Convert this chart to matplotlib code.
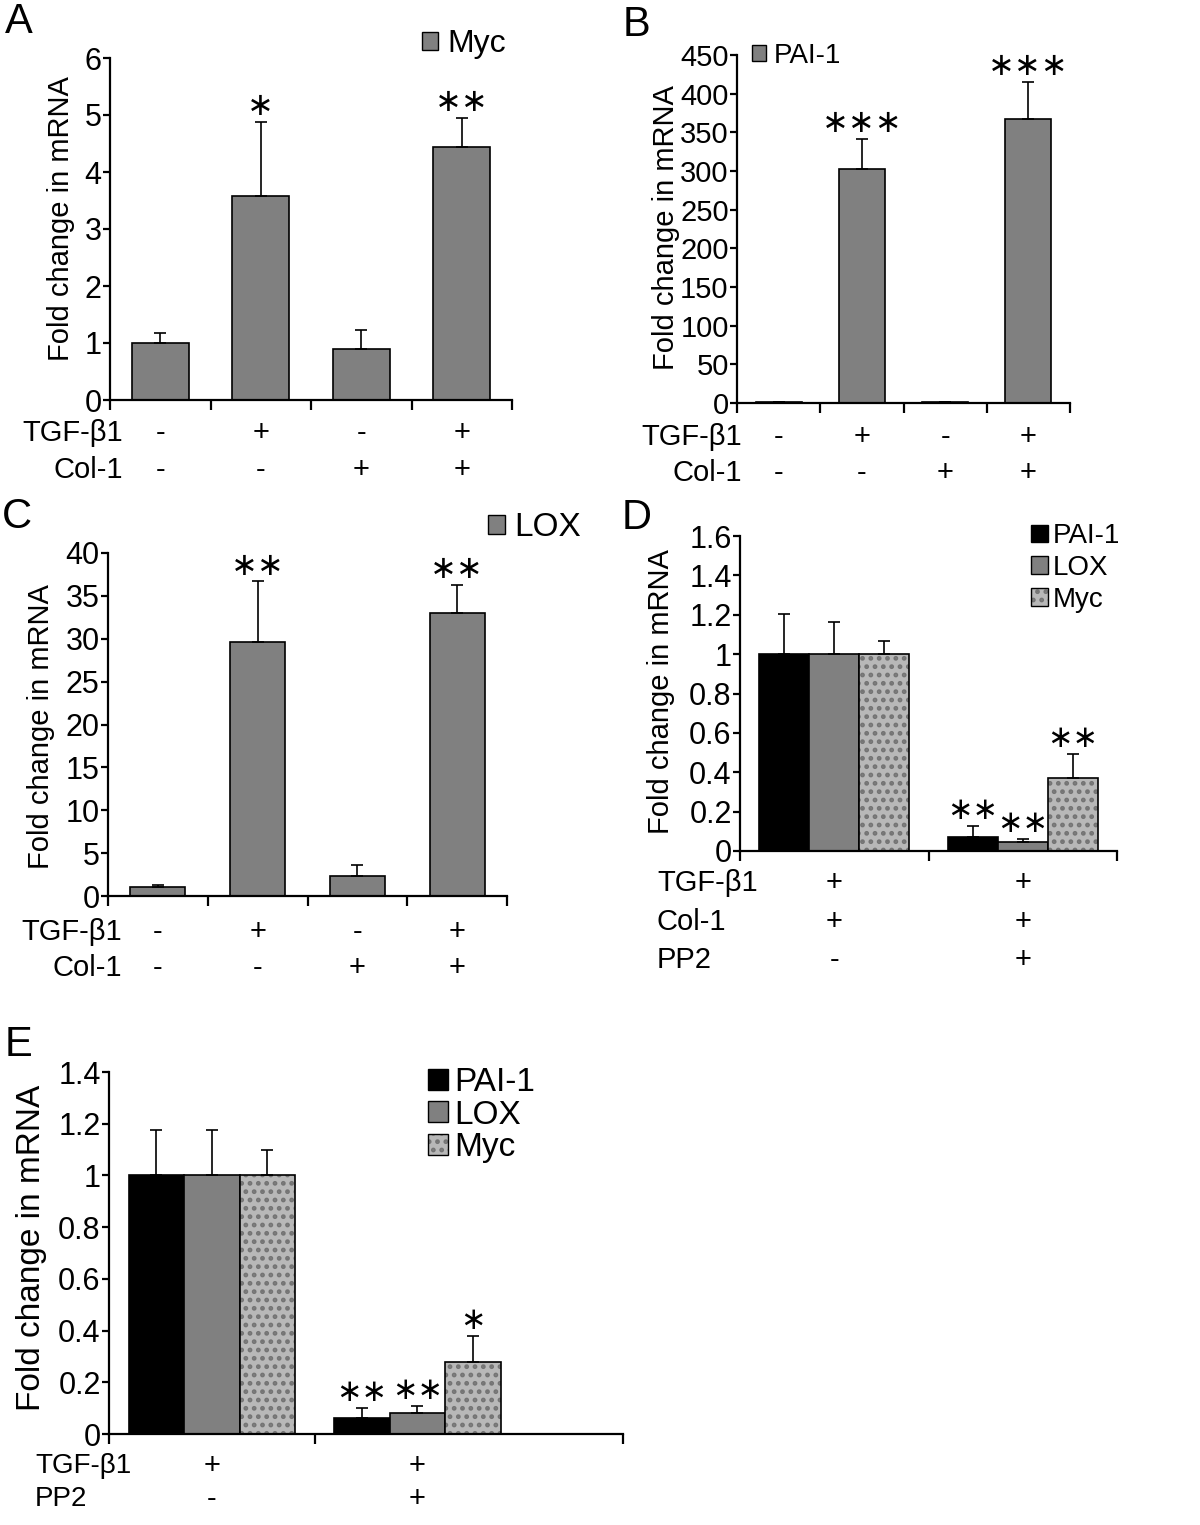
import matplotlib
matplotlib.use("Agg")
import matplotlib.pyplot as plt
from matplotlib.patches import Patch
from matplotlib.transforms import blended_transform_factory
import numpy as np

plt.rcParams['font.family'] = ['Liberation Sans', 'DejaVu Sans']
plt.rcParams['hatch.linewidth'] = 2.2

W, H = 1200, 1525

# ---- data ----
conds4 = [0, 1, 2, 3]
tgf_4 = ['-', '+', '-', '+']
col_4 = ['-', '-', '+', '+']

myc_a = [1.0, 3.58, 0.89, 4.43]
myc_a_err = [0.18, 1.30, 0.34, 0.52]
myc_a_sig = ['', '*', '', '**']

pai_b = [1.0, 303.0, 1.2, 367.0]
pai_b_err = [0.3, 39.0, 0.3, 48.0]
pai_b_sig = ['', '***', '', '***']

lox_c = [1.0, 29.6, 2.34, 33.0]
lox_c_err = [0.3, 7.1, 1.24, 3.3]
lox_c_sig = ['', '**', '', '**']

genes = ['PAI-1', 'LOX', 'Myc']

d_tgf = ['+', '+']
d_col = ['+', '+']
d_pp2 = ['-', '+']
d_vals = {'PAI-1': [1.0, 0.069], 'LOX': [1.0, 0.044], 'Myc': [1.0, 0.372]}
d_err = {'PAI-1': [0.203, 0.059], 'LOX': [0.165, 0.017], 'Myc': [0.069, 0.12]}
d_sig = {'PAI-1': ['', '**'], 'LOX': ['', '**'], 'Myc': ['', '**']}

e_tgf = ['+', '+']
e_pp2 = ['-', '+']
e_vals = {'PAI-1': [1.0, 0.062], 'LOX': [1.0, 0.08], 'Myc': [1.0, 0.277]}
e_err = {'PAI-1': [0.175, 0.038], 'LOX': [0.177, 0.029], 'Myc': [0.10, 0.103]}
e_sig = {'PAI-1': ['', '**'], 'LOX': ['', '**'], 'Myc': ['', '*']}

GRAY = '#808080'
SPECK = '#b8b8b8'
SPECK_DOT = '#747474'
gene_color = {'PAI-1': 'black', 'LOX': GRAY, 'Myc': SPECK}

fig = plt.figure(figsize=(W / 100, H / 100), dpi=100)


def fx(px):
    return px / W


def fy(py):
    return 1 - py / H


def make_axes(left, top, right, bottom):
    ax = fig.add_axes([fx(left), fy(bottom), (right - left) / W, (bottom - top) / H])
    ax.box = (left, top, right, bottom)
    return ax


def style(ax, xlim, xticks, ylim, yticks, yticklabels, tick_fs, ylab_fs, lab_right, lab_center):
    for s in ['top', 'right']:
        ax.spines[s].set_visible(False)
    for s in ['left', 'bottom']:
        ax.spines[s].set_linewidth(1.6)
    ax.set_xlim(*xlim)
    ax.set_ylim(*ylim)
    ax.set_xticks(xticks)
    ax.set_xticklabels([])
    ax.set_yticks(yticks)
    ax.set_yticklabels(yticklabels)
    ax.tick_params(axis='x', direction='out', length=7, width=1.6)
    ax.tick_params(axis='y', direction='out', length=5, width=1.6, labelsize=tick_fs, pad=1)
    ax.set_ylabel('Fold change in mRNA', fontsize=ylab_fs)
    left, top, right, bottom = ax.box
    ax.yaxis.set_label_coords((lab_right - left) / (right - left), (bottom - lab_center) / (bottom - top))


def stars(ax, xs, tops, sigs, fs=23, off=11):
    for x, t, s in zip(xs, tops, sigs):
        if s:
            ax.annotate('\u2217' * len(s), xy=(x, t), xytext=(0, off), textcoords='offset points',
                        ha='center', va='center', fontsize=fs, family='DejaVu Sans')


def rows(ax, labels, signs, ys, lab_x, ha='right', fs=21):
    tr = blended_transform_factory(ax.transData, fig.transFigure)
    for lab, sg, y in zip(labels, signs, ys):
        fig.text(fx(lab_x), fy(y), lab, ha=ha, va='center', fontsize=fs)
        for i, s in enumerate(sg):
            ax.text(i, fy(y), s, transform=tr, ha='center', va='center', fontsize=21)


def single_panel(ax, vals, err, sig, width):
    ax.bar(conds4, vals, width, color=GRAY, edgecolor='black', linewidth=1.2, zorder=2)
    ax.errorbar(conds4, vals, yerr=[np.zeros(4), err], fmt='none', ecolor='black',
                elinewidth=1.2, capsize=4, capthick=1.2, zorder=3)
    tops = np.array(vals) + np.array(err)
    stars(ax, conds4, tops, sig)


def single_legend(ax, label, px, py, fs):
    h = Patch(facecolor=GRAY, edgecolor='black', linewidth=1.0)
    ax.legend([h], [label], loc='center left', bbox_to_anchor=(fx(px), fy(py)),
              bbox_transform=fig.transFigure, frameon=False, fontsize=fs,
              handlelength=0.5, handleheight=0.5, handletextpad=0.3,
              borderpad=0, borderaxespad=0)


def group_panel(ax, vals, err, sig, width):
    xs = np.arange(2)
    handles = []
    for k, g in enumerate(genes):
        pos = xs + (k - 1) * width
        if g == 'Myc':
            ax.bar(pos, vals[g], width, color=SPECK, hatch='..', edgecolor=SPECK_DOT,
                   linewidth=0, zorder=2)
            ax.bar(pos, vals[g], width, fill=False, edgecolor='black', linewidth=1.2, zorder=2)
            handles.append((Patch(facecolor=SPECK, hatch='..', edgecolor=SPECK_DOT, linewidth=0),
                            Patch(fill=False, edgecolor='black', linewidth=1.0)))
        else:
            ax.bar(pos, vals[g], width, color=gene_color[g], edgecolor='black', linewidth=1.2, zorder=2)
            handles.append(Patch(facecolor=gene_color[g], edgecolor='black', linewidth=1.0))
        ax.errorbar(pos, vals[g], yerr=[np.zeros(2), err[g]], fmt='none', ecolor='black',
                    elinewidth=1.2, capsize=4, capthick=1.2, zorder=3)
        tops = np.array(vals[g]) + np.array(err[g])
        stars(ax, pos, tops, sig[g], fs=22, off=11)
    return handles


def group_legend(ax, handles, px, py, fs, spacing):
    ax.legend(handles, genes, loc='center left', bbox_to_anchor=(fx(px), fy(py)),
              bbox_transform=fig.transFigure, frameon=False, fontsize=fs,
              handlelength=0.6, handleheight=0.6, handletextpad=0.2,
              borderpad=0, borderaxespad=0, labelspacing=spacing)


# ---- A ----
axA = make_axes(110, 58, 512, 400)
single_panel(axA, myc_a, myc_a_err, myc_a_sig, 0.57)
style(axA, (-0.5, 3.5), [-0.5, 0.5, 1.5, 2.5, 3.5], (0, 6), range(0, 7),
      [str(v) for v in range(0, 7)], 22, 21, 75, 219)
single_legend(axA, 'Myc', 422, 44, 23)
rows(axA, ['TGF-\u03b21', 'Col-1'], [tgf_4, col_4], [433, 470], 123)

# ---- B ----
axB = make_axes(737, 55, 1070, 403)
single_panel(axB, pai_b, pai_b_err, pai_b_sig, 0.55)
style(axB, (-0.5, 3.5), [-0.5, 0.5, 1.5, 2.5, 3.5], (0, 450), range(0, 451, 50),
      [str(v) for v in range(0, 451, 50)], 21, 21, 680, 228)
single_legend(axB, 'PAI-1', 752, 56, 20)
rows(axB, ['TGF-\u03b21', 'Col-1'], [tgf_4, col_4], [437, 473], 742)

# ---- C ----
axC = make_axes(108, 553, 507, 896)
single_panel(axC, lox_c, lox_c_err, lox_c_sig, 0.55)
style(axC, (-0.5, 3.5), [-0.5, 0.5, 1.5, 2.5, 3.5], (0, 40), range(0, 41, 5),
      [str(v) for v in range(0, 41, 5)], 22, 21, 55, 727)
single_legend(axC, 'LOX', 488, 528, 24)
rows(axC, ['TGF-\u03b21', 'Col-1'], [tgf_4, col_4], [932, 968], 122)

# ---- D ----
axD = make_axes(740, 536, 1117, 851)
hD = group_panel(axD, d_vals, d_err, d_sig, 0.266)
dt = [0, 0.2, 0.4, 0.6, 0.8, 1.0, 1.2, 1.4, 1.6]
style(axD, (-0.5, 1.5), [-0.5, 0.5, 1.5], (0, 1.6), dt,
      ['0', '0.2', '0.4', '0.6', '0.8', '1', '1.2', '1.4', '1.6'], 22, 21, 675, 692)
group_legend(axD, hD, 1031, 568, 20, 0.2)
rows(axD, ['TGF-\u03b21', 'Col-1', 'PP2'], [d_tgf, d_col, d_pp2], [883, 922, 960], 657, ha='left')

# ---- E ----
axE = make_axes(109, 1072, 623, 1434)
hE = group_panel(axE, e_vals, e_err, e_sig, 0.27)
et = [0, 0.2, 0.4, 0.6, 0.8, 1.0, 1.2, 1.4]
style(axE, (-0.5, 2.0), [-0.5, 0.5, 2.0], (0, 1.4), et,
      ['0', '0.2', '0.4', '0.6', '0.8', '1', '1.2', '1.4'], 22, 24, 47, 1248)
group_legend(axE, hE, 428, 1115, 24, 0.05)
rows(axE, ['TGF-\u03b21', 'PP2'], [e_tgf, e_pp2], [1466, 1499], 35, ha='left', fs=20)

# panel letters
for lab, x, y in [('A', 5, 22), ('B', 623, 25), ('C', 2, 517), ('D', 622, 518), ('E', 5, 1045)]:
    fig.text(fx(x), fy(y), lab, fontsize=30, ha='left', va='center')

fig.savefig('out.png', dpi=100)
